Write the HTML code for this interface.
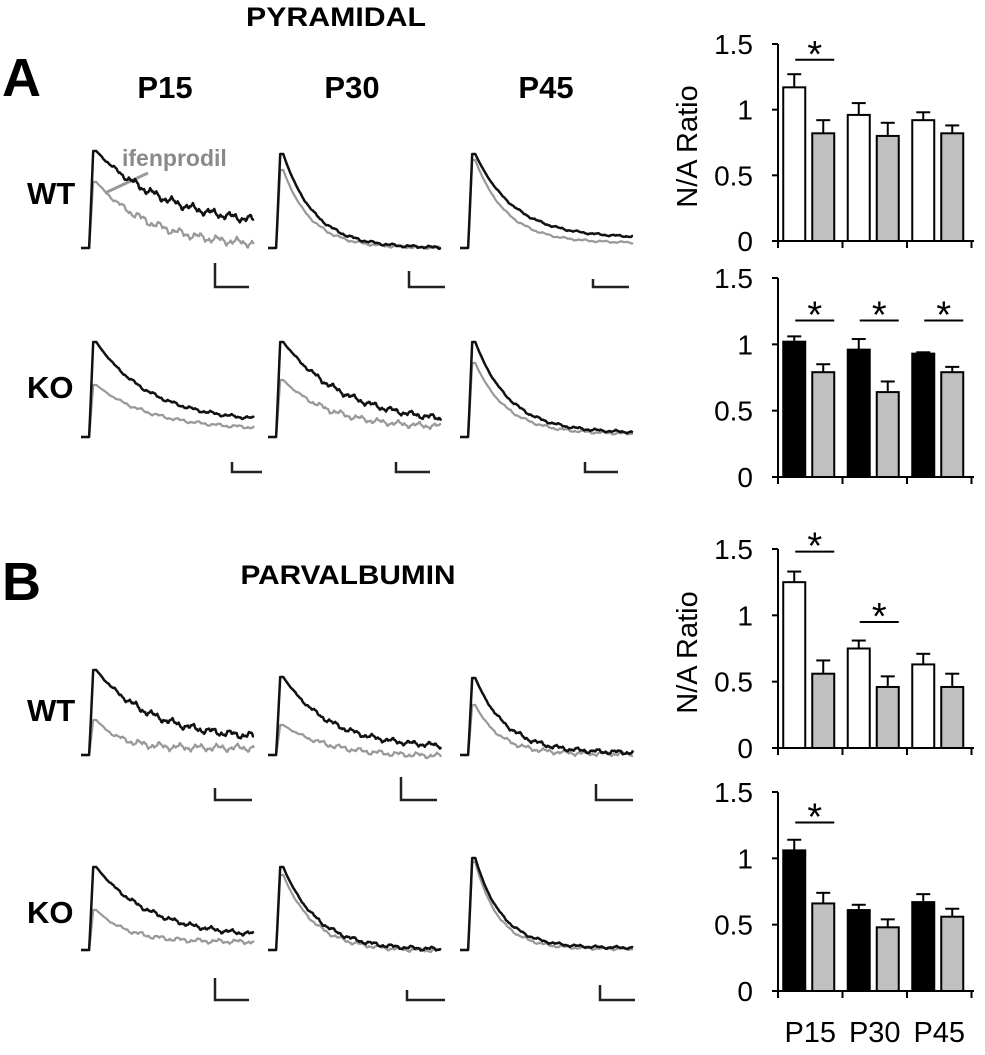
<!DOCTYPE html>
<html><head><meta charset="utf-8"><style>
body{margin:0;background:#fff;}
svg text{font-family:"Liberation Sans",Arial,sans-serif;}
</style></head><body>
<svg id="fig" width="985" height="1050" viewBox="0 0 985 1050" xmlns="http://www.w3.org/2000/svg">
<g font-weight="bold" fill="#000">
<text x="336" y="26" font-size="27" text-anchor="middle" textLength="180" lengthAdjust="spacingAndGlyphs">PYRAMIDAL</text>
<text x="2" y="96" font-size="54">A</text>
<text x="165" y="98" font-size="31" text-anchor="middle">P15</text>
<text x="352" y="98" font-size="31" text-anchor="middle">P30</text>
<text x="546" y="98" font-size="31" text-anchor="middle">P45</text>
<text x="27" y="204" font-size="31">WT</text>
<text x="27" y="398" font-size="31">KO</text>
<text x="2" y="600" font-size="54">B</text>
<text x="348" y="584" font-size="27" text-anchor="middle" textLength="215" lengthAdjust="spacingAndGlyphs">PARVALBUMIN</text>
<text x="27" y="721" font-size="31">WT</text>
<text x="27" y="923" font-size="31">KO</text>
</g>
<text x="122" y="166" font-size="23" font-weight="bold" fill="#8a8a8a">ifenprodil</text>
<line x1="148" y1="173" x2="105" y2="193" stroke="#9a9a9a" stroke-width="3"/>
<g id="traces"></g>
<g id="bars"></g>
</svg>
<script>
// ===== Bar chart data =====
const groups = ["P15","P30","P45"];
const yTicks = [0,0.5,1,1.5];
const yTickLabels = ["0","0.5","1","1.5"];
const aWtControl = [1.17,0.96,0.92];
const aWtIfen = [0.82,0.80,0.82];
const aWtControlErr = [0.10,0.09,0.06];
const aWtIfenErr = [0.10,0.10,0.06];
const aKoControl = [1.02,0.96,0.93];
const aKoIfen = [0.79,0.64,0.79];
const aKoControlErr = [0.04,0.08,0.01];
const aKoIfenErr = [0.06,0.08,0.04];
const bWtControl = [1.25,0.75,0.63];
const bWtIfen = [0.56,0.46,0.46];
const bWtControlErr = [0.08,0.06,0.08];
const bWtIfenErr = [0.10,0.08,0.10];
const bKoControl = [1.06,0.61,0.67];
const bKoIfen = [0.66,0.48,0.56];
const bKoControlErr = [0.08,0.04,0.06];
const bKoIfenErr = [0.08,0.06,0.06];
const aWtSigGroups = [0];
const aWtSigLevels = [1.38];
const aKoSigGroups = [0,1,2];
const aKoSigLevels = [1.18,1.18,1.18];
const bWtSigGroups = [0,1];
const bWtSigLevels = [1.48,0.95];
const bKoSigGroups = [0];
const bKoSigLevels = [1.27];

// ===== Trace parameters (peak / end level in panel px, decay) =====
const tracePeakBlack = [[151,154,154],[342,342,342],[670,677,678],[867,867,858]];
const tracePeakGray  = [[182,170,160],[385,380,363],[720,725,705],[910,875,862]];
const traceEndBlack  = [[228,248,238],[423,425,433],[740,748,753],[938,950,948]];
const traceEndGray   = [[247,248,243],[430,428,434],[748,757,754],[942,951,949]];
const traceTau       = [[0.45,0.2,0.25],[0.35,0.4,0.22],[0.35,0.3,0.2],[0.35,0.22,0.17]];
const traceTauGray   = [[0.35,0.18,0.2],[0.35,0.3,0.2],[0.15,0.3,0.16],[0.2,0.2,0.15]];
const traceNoise     = [[2.5,0.8,0.6],[1,1.8,0.8],[2.2,1.6,1.4],[1.4,1.2,0.8]];

const NS="http://www.w3.org/2000/svg";
function mk(tag,attrs,parent){const e=document.createElementNS(NS,tag);for(const k in attrs)e.setAttribute(k,attrs[k]);parent.appendChild(e);return e;}

const rowBase=[248,437,755,950];
const colX0=[81,268,460];
const traceW=173;
const scaleBars=[
 [[215,263,249],[409,271,445],[593,279,629]],
 [[232,462,262],[396,462,430],[585,462,618]],
 [[215,788,252],[401,777,437],[596,784,633]],
 [[215,978,249],[407,990,445],[600,985,635]]];
const rowNames=["a-wt","a-ko","b-wt","b-ko"];
const tg=document.getElementById('traces');
function noise(i,seed){return Math.sin(i*0.9+seed)*0.7+Math.sin(i*0.33+seed*2.1)*1.0+Math.sin(i*2.1+seed*0.7)*0.4;}
function tracePath(x0,base,peak,end,tau,nz,seed){
  let d="";const N=170;
  for(let i=0;i<=N;i++){
    const x=x0+i*traceW/N; let y;
    if(i<8) y=base;
    else if(i<12) y=base+(peak-base)*(i-8)/4;
    else if(i<15) y=peak;
    else{const t=(i-15)/(N-15);y=end+(peak-end)*Math.exp(-t/tau);y+=noise(i,seed)*nz*Math.min(1,t*4);}
    d+=(i?"L":"M")+x.toFixed(1)+" "+y.toFixed(1);
  }
  return d;
}
for(let r=0;r<4;r++)for(let c=0;c<3;c++){
  const g=mk('g',{},tg);
  
  
  const pg=mk('path',{d:tracePath(colX0[c],rowBase[r],tracePeakGray[r][c],traceEndGray[r][c],traceTauGray[r][c],traceNoise[r][c],r*3+c+5),fill:'none',stroke:'#999','stroke-width':2.2,'stroke-linejoin':'round'},g);
  
  
  const pb=mk('path',{d:tracePath(colX0[c],rowBase[r],tracePeakBlack[r][c],traceEndBlack[r][c],traceTau[r][c],traceNoise[r][c],r*3+c),fill:'none',stroke:'#111','stroke-width':2.5,'stroke-linejoin':'round'},g);
  
  
  const sb=scaleBars[r][c];
  const by=r==0?287:(r==1?472:(r==2?800:1000));
  const s=mk('path',{d:`M${sb[0]} ${sb[1]}L${sb[0]} ${by}L${sb[2]} ${by}`,fill:'none',stroke:'#222','stroke-width':2.5},g);
  
  
}

const charts=[
 {name:'a-wt',top:44,bot:241,ctl:aWtControl,ifn:aWtIfen,ce:aWtControlErr,ie:aWtIfenErr,fill:'#fff',sg:aWtSigGroups,sl:aWtSigLevels,ylab:true},
 {name:'a-ko',top:278,bot:477,ctl:aKoControl,ifn:aKoIfen,ce:aKoControlErr,ie:aKoIfenErr,fill:'#000',sg:aKoSigGroups,sl:aKoSigLevels,ylab:false},
 {name:'b-wt',top:549,bot:748,ctl:bWtControl,ifn:bWtIfen,ce:bWtControlErr,ie:bWtIfenErr,fill:'#fff',sg:bWtSigGroups,sl:bWtSigLevels,ylab:true},
 {name:'b-ko',top:792,bot:991,ctl:bKoControl,ifn:bKoIfen,ce:bKoControlErr,ie:bKoIfenErr,fill:'#000',sg:bKoSigGroups,sl:bKoSigLevels,ylab:false}];
const axX=778, axR=974, gW=64.5, bW=22;
const bg=document.getElementById('bars');
charts.forEach((ch,ci)=>{
  const g=mk('g',{},bg);
  
  
  const y=v=>ch.bot-(ch.bot-ch.top)*v/1.5;
  const gc=i=>axX+gW*(i+0.5);
  function bar(v,e,x,fill,nm){
    const h=y(0)-y(v);
    const ln=mk('line',{x1:x+bW/2,x2:x+bW/2,y1:y(v),y2:y(v+e),stroke:'#000','stroke-width':2},g);
    
    
    const cap=mk('line',{x1:x+bW/2-7,x2:x+bW/2+7,y1:y(v+e),y2:y(v+e),stroke:'#000','stroke-width':2},g);
    
    
    const r=mk('rect',{x:x,y:y(v),width:bW,height:h,fill:fill,stroke:'#000','stroke-width':2},g);
    
    
  }
  groups.forEach((gname,i)=>{
    bar(ch.ctl[i],ch.ce[i],gc(i)-27,ch.fill,'bar-control-'+gname.toLowerCase());
    bar(ch.ifn[i],ch.ie[i],gc(i)+2,'#c0c0c0','bar-ifenprodil-'+gname.toLowerCase());
  });
  const ax=mk('path',{d:`M${axX} ${ch.top}L${axX} ${ch.bot}L${axR} ${ch.bot}`,fill:'none',stroke:'#000','stroke-width':2},g);
  
  
  for(let i=0;i<=3;i++){
    const t=mk('line',{x1:axX+gW*i,x2:axX+gW*i,y1:ch.bot,y2:ch.bot+7,stroke:'#000','stroke-width':2},g);
    
    
  }
  yTicks.forEach((v,k)=>{
    const t=mk('line',{x1:axX-6,x2:axX,y1:y(v),y2:y(v),stroke:'#000','stroke-width':2},g);
    
    
    const tx=mk('text',{x:753,y:y(v)+10,'font-size':28,'text-anchor':'end'},g);
    tx.textContent=yTickLabels[k];
    
    
  });
  ch.sg.forEach((gi,k)=>{
    const ly=y(ch.sl[k]);
    const l=mk('line',{x1:gc(gi)-15,x2:gc(gi)+24,y1:ly,y2:ly,stroke:'#000','stroke-width':2},g);
    
    
    const s=mk('text',{x:gc(gi)+4.5,y:ly+7,'font-size':38,'text-anchor':'middle'},g);
    s.textContent='*';
    
    
  });
  if(ch.ylab){
    const cy=(ch.top+ch.bot)/2+4;
    const t=mk('text',{x:0,y:0,'font-size':29,'text-anchor':'middle',transform:`translate(697 ${cy}) rotate(-90)`},g);
    t.textContent='N/A Ratio';
    
    
  }
  if(ci==3){
    groups.forEach((gname,i)=>{
      const t=mk('text',{x:gc(i),y:1042,'font-size':29,'text-anchor':'middle'},g);
      t.textContent=gname;
      
      
    });
  }
});
</script>
</body></html>
